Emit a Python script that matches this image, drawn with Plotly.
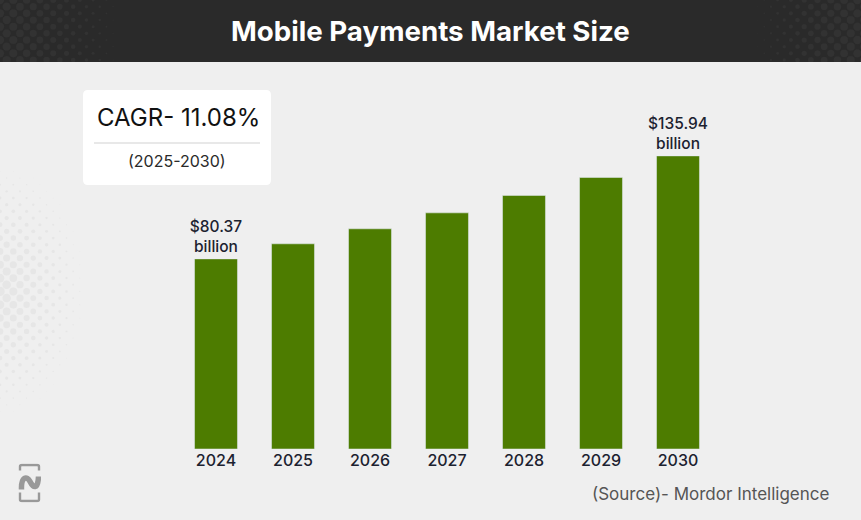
import base64
import plotly.graph_objects as go

years = ['2024', '2025', '2026', '2027', '2028', '2029', '2030']
market_size = [80.37, 88.5, 96.6, 105.2, 114.6, 124.3, 135.94]
bar_labels = ['$80.37<br>billion', '', '', '', '', '', '$135.94<br>billion']

W, H = 861, 520
FONT = 'Inter'
BAR_COLOR = '#4d7c00'
TEXT_COLOR = '#1c2230'
# the bars in the picture do not start from zero
AXIS_BASE = -22.2


def px(x):
    return x / W


def py(y):
    return 1 - y / H


def svg_uri(body, w, h):
    svg = f'<svg xmlns="http://www.w3.org/2000/svg" width="{w}" height="{h}" viewBox="0 0 {w} {h}">{body}</svg>'
    return 'data:image/svg+xml;base64,' + base64.b64encode(svg.encode()).decode()


def halftone(w, h, color, rmax, fade):
    # decorative dots, staggered rows, shrinking with fade(x, y)
    step_x, step_y = 13.3, 6.67
    out = ''
    for j in range(int(h / step_y) + 2):
        for i in range(int(w / step_x) + 2):
            x = i * step_x + (step_x / 2 if j % 2 else 0)
            y = j * step_y
            r = rmax * (1 - fade(x, y))
            if r > 0.3:
                out += f'<circle cx="{x:.2f}" cy="{y:.2f}" r="{r:.2f}" fill="{color}"/>'
    return out


header_left = svg_uri(halftone(125, 62, '#323232', 4.2, lambda x, y: (x / 125) ** 1.5), 125, 62)
header_right = svg_uri(halftone(110, 62, '#323232', 4.2, lambda x, y: (max(110 - x, 0) / 110) ** 1.5), 110, 62)
side_dots = svg_uri(halftone(92, 264, '#e6e6e6', 4.8,
                             lambda x, y: (((x + 2) / 92) ** 2 + ((y - 132) / 132) ** 2) ** 0.5), 92, 264)
logo = svg_uri(
    '<path d="M2 7V3Q2 1.5 4 1.5H19Q21 1.5 21 3V7M2 29V36Q2 37.5 4 37.5H19Q21 37.5 21 36V29" '
    'fill="none" stroke="#999" stroke-width="2.4"/>'
    '<path d="M3.5 26C3 13 9 12 12 18C15 24 20 27 20.5 13" fill="none" stroke="#999" stroke-width="5.5"/>',
    23, 39)

fig = go.Figure()
fig.add_trace(go.Bar(x=years, y=[v - AXIS_BASE for v in market_size], base=AXIS_BASE, width=0.558,
                     marker_color=BAR_COLOR, text=bar_labels, textposition='outside', cliponaxis=False,
                     constraintext='none', textfont=dict(family=FONT, size=15.5, color=TEXT_COLOR, weight=500)))

fig.update_layout(
    width=W, height=H, margin=dict(l=0, r=0, t=0, b=0),
    paper_bgcolor='#efefef', plot_bgcolor='rgba(0,0,0,0)',
    showlegend=False, font=dict(family=FONT),
    xaxis=dict(domain=[px(177.5), px(716.5)], type='category', showgrid=False, zeroline=False, showline=False,
               ticks='', tickfont=dict(family=FONT, size=16, color=TEXT_COLOR, weight=500)),
    yaxis=dict(domain=[py(449), py(62)], range=[AXIS_BASE, 186.6], visible=False),
    shapes=[
        dict(type='rect', xref='paper', yref='paper', x0=0, x1=1, y0=py(62), y1=1,
             fillcolor='#2a2a2a', line_width=0, layer='below'),
        dict(type='path', xref='paper', yref='paper', fillcolor='white', line_width=0, layer='below',
             path=(f'M{px(88)},{py(90)} L{px(266)},{py(90)} Q{px(271)},{py(90)} {px(271)},{py(95)} '
                   f'L{px(271)},{py(180)} Q{px(271)},{py(185)} {px(266)},{py(185)} '
                   f'L{px(88)},{py(185)} Q{px(83)},{py(185)} {px(83)},{py(180)} '
                   f'L{px(83)},{py(95)} Q{px(83)},{py(90)} {px(88)},{py(90)} Z')),
        dict(type='line', xref='paper', yref='paper', x0=px(94), x1=px(260), y0=py(143), y1=py(143),
             line=dict(color='#d2d2d2', width=1.2)),
    ],
    images=[
        dict(source=header_left, xref='paper', yref='paper', x=0, y=1, sizex=px(125), sizey=62 / H,
             xanchor='left', yanchor='top', sizing='stretch', layer='above'),
        dict(source=header_right, xref='paper', yref='paper', x=1, y=1, sizex=px(110), sizey=62 / H,
             xanchor='right', yanchor='top', sizing='stretch', layer='above'),
        dict(source=side_dots, xref='paper', yref='paper', x=0, y=py(158), sizex=px(92), sizey=264 / H,
             xanchor='left', yanchor='top', sizing='stretch', layer='below'),
        dict(source=logo, xref='paper', yref='paper', x=px(18), y=py(463.5), sizex=px(23), sizey=39 / H,
             xanchor='left', yanchor='top', sizing='stretch', layer='above'),
    ],
    annotations=[
        dict(text='<b>Mobile Payments Market Size</b>', xref='paper', yref='paper', x=px(430.5), y=py(31),
             xanchor='center', yanchor='middle', showarrow=False, font=dict(family=FONT, size=27.7, color='white')),
        dict(text='CAGR- 11.08%', xref='paper', yref='paper', x=px(178), y=py(118),
             xanchor='center', yanchor='middle', showarrow=False, font=dict(family=FONT, size=24, color='#111111')),
        dict(text='(2025-2030)', xref='paper', yref='paper', x=px(177), y=py(161),
             xanchor='center', yanchor='middle', showarrow=False, font=dict(family=FONT, size=16, color='#2a2a2a')),
        dict(text='(Source)- Mordor Intelligence', xref='paper', yref='paper', x=px(832), y=py(494),
             xanchor='right', yanchor='middle', showarrow=False, font=dict(family=FONT, size=17, color='#555555')),
    ],
)

fig.write_html('out.html', config=dict(displayModeBar=False), post_script="document.body.style.margin='0';")
